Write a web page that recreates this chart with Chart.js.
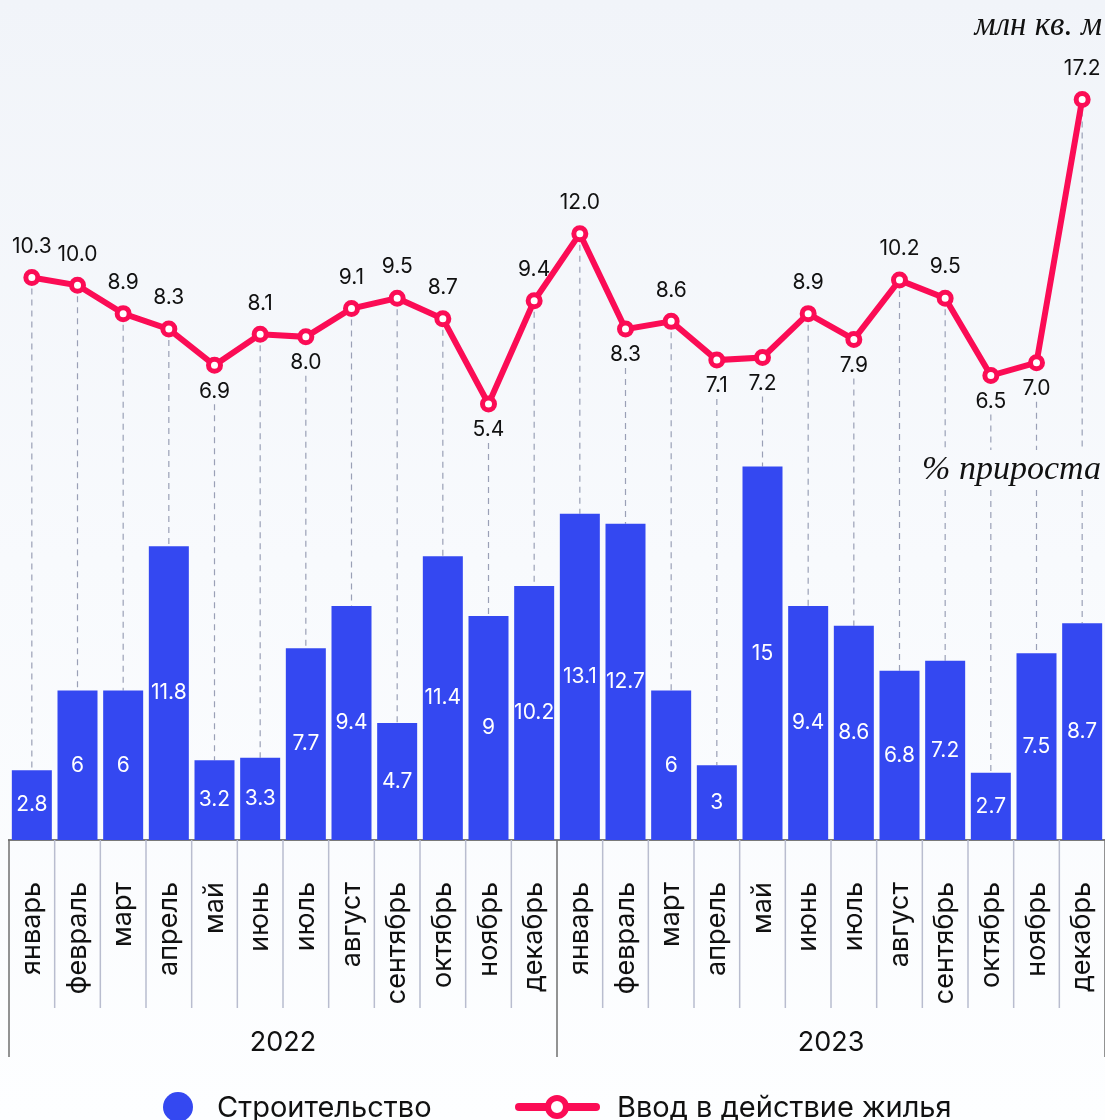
<!DOCTYPE html>
<html><head><meta charset="utf-8">
<script src="https://cdn.jsdelivr.net/npm/chart.js@4/dist/chart.umd.min.js"></script>
<style>html,body{margin:0;padding:0;background:#f7f9fc}#wrap{width:1105px;height:1120px}</style>
</head><body><div id="wrap"><canvas id="c" width="1105" height="1120"></canvas></div>
<script>
const months = ['январь','февраль','март','апрель','май','июнь','июль','август','сентябрь','октябрь','ноябрь','декабрь'];
const years = ['2022','2023'];
const categories = years.flatMap(() => months);
const construction = [2.8,6,6,11.8,3.2,3.3,7.7,9.4,4.7,11.4,9,10.2,13.1,12.7,6,3,15,9.4,8.6,6.8,7.2,2.7,7.5,8.7];
const housing = [10.3,10.0,8.9,8.3,6.9,8.1,8.0,9.1,9.5,8.7,5.4,9.4,12.0,8.3,8.6,7.1,7.2,8.9,7.9,10.2,9.5,6.5,7.0,17.2];
const seriesNames = ['Строительство','Ввод в действие жилья'];
const unitText = 'млн кв. м';
const growthText = '% прироста';

const BLUE = '#3448f1';
const PINK = '#fb0c55';
const FONT = 'Inter, "Noto Sans", sans-serif';
const SERIF = '"Liberation Serif", "DejaVu Serif", serif';
const labelBelowIdx = [4,6,10,13,15,16,18,21,22];

let bgGrad = null;
const deco = {
  id: 'deco',
  beforeDraw(chart) {
    const {ctx, width, height} = chart;
    bgGrad = ctx.createLinearGradient(0, 0, 0, height);
    bgGrad.addColorStop(0, '#f1f4f9');
    bgGrad.addColorStop(0.5, '#f8fafd');
    bgGrad.addColorStop(1, '#fdfeff');
    ctx.save(); ctx.fillStyle = bgGrad; ctx.fillRect(0, 0, width, height); ctx.restore();
  },
  growthBox(chart) {
    const ctx = chart.ctx;
    ctx.save();
    ctx.font = 'italic 34px ' + SERIF;
    const w = ctx.measureText(growthText).width;
    ctx.restore();
    return {x1: 1101 - w - 4, x2: 1105, y1: 450, y2: 490, w};
  },
  beforeDatasetsDraw(chart) {
    const ctx = chart.ctx;
    const lm = chart.getDatasetMeta(0), bm = chart.getDatasetMeta(1);
    const box = this.growthBox(chart);
    ctx.save();
    ctx.strokeStyle = '#9aa0b6';
    ctx.lineWidth = 1.2;
    ctx.setLineDash([6, 5]);
    lm.data.forEach((p, i) => {
      const b = bm.data[i];
      let y1 = p.y;
      if (labelBelowIdx.includes(i)) y1 = p.y + 39;
      const y2 = b.y;
      const segs = [];
      if (p.x > box.x1 && p.x < box.x2 && y1 < box.y1 && y2 > box.y2) {
        segs.push([y1, box.y1], [box.y2, y2]);
      } else segs.push([y1, y2]);
      segs.forEach(([a, c]) => {
        ctx.beginPath(); ctx.moveTo(p.x, a); ctx.lineTo(p.x, c); ctx.stroke();
      });
    });
    ctx.restore();
  },
  afterDatasetsDraw(chart) {
    const ctx = chart.ctx;
    const lm = chart.getDatasetMeta(0), bm = chart.getDatasetMeta(1);
    const area = chart.chartArea;
    ctx.save();
    // bar labels
    ctx.fillStyle = '#ffffff';
    ctx.font = '21px ' + FONT;
    ctx.textAlign = 'center'; ctx.textBaseline = 'middle';
    bm.data.forEach((b, i) => {
      ctx.fillText(String(construction[i]), b.x, (b.y + b.base) / 2);
    });
    // line labels
    ctx.fillStyle = '#111111';
    ctx.font = '21px ' + FONT;
    lm.data.forEach((p, i) => {
      const below = labelBelowIdx.includes(i);
      ctx.fillText(housing[i].toFixed(1), p.x, below ? p.y + 26 : p.y - 31);
    });
    // separators
    const step = (area.right - area.left) / categories.length;
    for (let k = 0; k <= categories.length; k++) {
      const x = area.left + k * step;
      const major = k % months.length === 0;
      ctx.strokeStyle = major ? '#6f6f6f' : '#b9bdcf';
      ctx.lineWidth = 1.5;
      ctx.beginPath(); ctx.moveTo(x, area.bottom); ctx.lineTo(x, major ? 1057 : 1008); ctx.stroke();
    }
    // year labels
    ctx.fillStyle = '#111111';
    ctx.font = '27px ' + FONT;
    years.forEach((y, j) => {
      const x = area.left + (j + 0.5) * months.length * step;
      ctx.fillText(y, x, 1043);
    });
    // unit text
    ctx.font = 'italic 33px ' + SERIF;
    ctx.textAlign = 'right';
    ctx.fillText(unitText, 1102, 26);
    // growth text
    ctx.font = 'italic 34px ' + SERIF;
    ctx.fillText(growthText, 1101, 470);
    // legend
    ctx.textAlign = 'left';
    ctx.fillStyle = BLUE;
    ctx.beginPath(); ctx.arc(178, 1107, 15, 0, Math.PI * 2); ctx.fill();
    ctx.fillStyle = '#111111';
    ctx.font = '29px ' + FONT;
    ctx.fillText(seriesNames[0], 217, 1108);
    ctx.strokeStyle = PINK; ctx.lineWidth = 8; ctx.lineCap = 'round';
    ctx.beginPath(); ctx.moveTo(519, 1107); ctx.lineTo(596, 1107); ctx.stroke();
    ctx.fillStyle = '#ffffff'; ctx.lineWidth = 6;
    ctx.beginPath(); ctx.arc(557, 1107, 9, 0, Math.PI * 2); ctx.fill(); ctx.stroke();
    ctx.fillStyle = '#111111';
    ctx.fillText(seriesNames[1], 617, 1108);
    ctx.restore();
  }
};

new Chart(document.getElementById('c'), {
  type: 'bar',
  data: {
    labels: categories,
    datasets: [
      {type: 'line', label: seriesNames[1], data: housing, yAxisID: 'y1', borderColor: PINK, borderWidth: 6,
       pointRadius: 6, pointBorderWidth: 5, pointBackgroundColor: '#ffffff', pointBorderColor: PINK, tension: 0, order: 0, clip: false},
      {type: 'bar', label: seriesNames[0], data: construction, yAxisID: 'y', backgroundColor: BLUE,
       barPercentage: 0.876, categoryPercentage: 1, order: 1}
    ]
  },
  options: {
    responsive: false, animation: false,
    layout: {autoPadding: false, padding: {left: 9, right: 0, top: 20, bottom: 0}},
    plugins: {legend: {display: false}, tooltip: {enabled: false}},
    scales: {
      x: {
        grid: {display: false, drawTicks: false},
        border: {display: true, color: '#7a7a7a', width: 2},
        ticks: {autoSkip: false, minRotation: 90, maxRotation: 90, padding: 42, color: '#111111', font: {family: FONT, size: 27}},
        afterFit(s) { s.height = 280; s.paddingLeft = 0; s.paddingRight = 0; }
      },
      y: {display: false, min: 0, max: 32.93},
      y1: {display: false, min: -11.5, max: 20.28}
    }
  },
  plugins: [deco]
});
</script></body></html>
